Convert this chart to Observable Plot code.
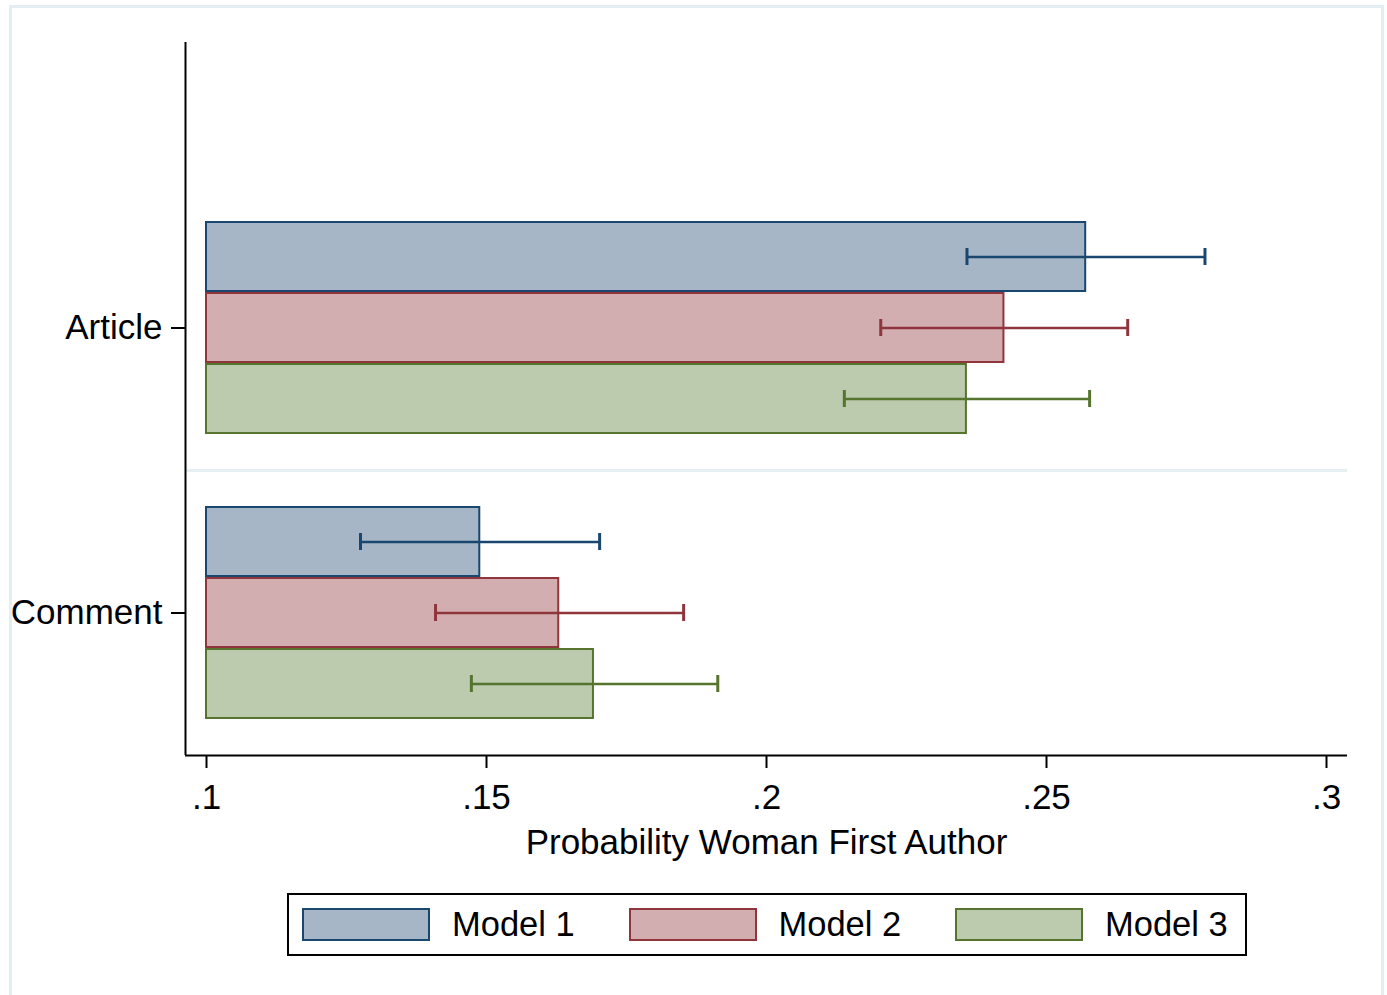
<!DOCTYPE html>
<html>
<head>
<meta charset="utf-8">
<script src="https://cdn.jsdelivr.net/npm/d3@7"></script>
<script src="https://cdn.jsdelivr.net/npm/@observablehq/plot@0.6"></script>
<style>
  html, body { margin: 0; padding: 0; background: #fff; overflow: hidden; width: 1387px; height: 995px; }
  #page { position: relative; width: 1387px; height: 995px; font-family: "Liberation Sans", Arial, sans-serif; }
  #border { position: absolute; left: 9px; top: 5px; width: 1375px; height: 1100px; box-sizing: border-box;
            border: 3px solid #e3eef2; pointer-events: none; z-index: 5; }
  #chart { position: absolute; left: 0; top: 0; }
  #legend { position: absolute; left: 287px; top: 893px; width: 960px; height: 63px; box-sizing: border-box;
            border: 2px solid #000; background: #fff; }
  .item { position: absolute; top: 0; height: 59px; display: flex; align-items: center; }
  .sw { width: 128px; height: 33px; box-sizing: border-box; border: 2px solid; margin-right: 22px; }
  .lab { font-size: 34.5px; color: #000; line-height: 1; white-space: nowrap; }
</style>
</head>
<body>
<div id="page">
  <div id="chart"></div>
  <div id="legend"></div>
  <div id="border"></div>
</div>
<script>
// ---- data ----
const categories = ["Article", "Comment"];
const models = ["Model 1", "Model 2", "Model 3"];
const articleEst = [0.2570, 0.2424, 0.2357];
const articleLo  = [0.2358, 0.2204, 0.2139];
const articleHi  = [0.2783, 0.2645, 0.2577];
const commentEst = [0.1488, 0.1629, 0.1691];
const commentLo  = [0.1275, 0.1409, 0.1473];
const commentHi  = [0.1702, 0.1852, 0.1913];
const baseline = 0.1;
const xTicks = [0.1, 0.15, 0.2, 0.25, 0.3];
const xTickLabels = [".1", ".15", ".2", ".25", ".3"];
const xTitle = "Probability Woman First Author";
const strokeColors = ["#1a476f", "#90353b", "#55752f"];
const fillColors = ["#a6b6c7", "#d3aeb1", "#bccaae"];

// ---- table ----
const est = {Article: articleEst, Comment: commentEst};
const lo = {Article: articleLo, Comment: commentLo};
const hi = {Article: articleHi, Comment: commentHi};
const rows = [];
for (const c of categories) {
  models.forEach((m, i) => rows.push({category: c, model: m, est: est[c][i], lo: lo[c][i], hi: hi[c][i]}));
}
const strokeOf = d => strokeColors[models.indexOf(d.model)];
const fillOf = d => fillColors[models.indexOf(d.model)];

// ---- layout ----
const W = 1387, H = 880;
const mTop = 42, mRight = 40, mBottom = 125, mLeft = 185;
const xDomain = [0.09625, 0.30375];
const fyPadOuter = 0.2509;
const yPadOuter = 0.507;
const innerH = H - mTop - mBottom;
const facetStep = innerH / (2 + 2 * fyPadOuter);
const topGap = innerH - 2 * facetStep;            // unused space above first facet (align 1)
const barStep = facetStep / (3 + 2 * yPadOuter);
const edgeOffset = barStep / 2 + yPadOuter * barStep; // band center -> facet edge

const chart = Plot.plot({
  width: W, height: H,
  marginTop: mTop, marginRight: mRight, marginBottom: mBottom, marginLeft: mLeft,
  style: {fontFamily: '"Liberation Sans", Arial, sans-serif', fontSize: "35px", background: "transparent", color: "#000"},
  x: {domain: xDomain},
  y: {domain: models, paddingInner: 0, paddingOuter: yPadOuter, align: 0.5, round: false, axis: null},
  fy: {domain: categories, paddingInner: 0, paddingOuter: fyPadOuter, align: 1, round: false},
  marks: [
    // separator between groups
    Plot.ruleY(["Comment"], {fy: d => d, y: () => models[0], dy: -edgeOffset, stroke: "#e6f0f2", strokeWidth: 3}),
    // bars
    Plot.barX(rows, {fy: "category", y: "model", x1: () => baseline, x2: "est",
      fill: fillOf, stroke: strokeOf, strokeWidth: 2, insetTop: 1, insetBottom: 1}),
    // error bars
    Plot.ruleY(rows, {fy: "category", y: "model", x1: "lo", x2: "hi", stroke: strokeOf, strokeWidth: 2.5}),
    Plot.tickX(rows, {fy: "category", y: "model", x: "lo", stroke: strokeOf, strokeWidth: 3, insetTop: 27, insetBottom: 27}),
    Plot.tickX(rows, {fy: "category", y: "model", x: "hi", stroke: strokeOf, strokeWidth: 3, insetTop: 27, insetBottom: 27}),
    // axis lines
    Plot.ruleX([xDomain[0]], {fy: () => "Article", insetTop: -topGap, stroke: "#000", strokeWidth: 2}),
    Plot.ruleX([xDomain[0]], {fy: () => "Comment", stroke: "#000", strokeWidth: 2}),
    Plot.ruleY(["Comment"], {fy: d => d, y: () => models[2], dy: edgeOffset, stroke: "#000", strokeWidth: 2}),
    // axes
    Plot.axisX({ticks: xTicks, tickFormat: d => xTickLabels[xTicks.indexOf(d)], tickSize: 13, tickPadding: 16,
      strokeWidth: 2, label: xTitle, labelAnchor: "center", labelOffset: 98, labelArrow: "none"}),
    Plot.axisFy({anchor: "left", tickSize: 14, tickPadding: 9, strokeWidth: 2, label: null})
  ]
});
document.getElementById("chart").appendChild(chart);

// ---- legend ----
const legend = document.getElementById("legend");
models.forEach((m, i) => {
  const item = document.createElement("div");
  item.className = "item";
  item.style.left = (13 + i * 326.5) + "px";
  const sw = document.createElement("div");
  sw.className = "sw";
  sw.style.background = fillColors[i];
  sw.style.borderColor = strokeColors[i];
  const lab = document.createElement("span");
  lab.className = "lab";
  lab.textContent = m;
  item.appendChild(sw);
  item.appendChild(lab);
  legend.appendChild(item);
});
</script>
</body>
</html>
